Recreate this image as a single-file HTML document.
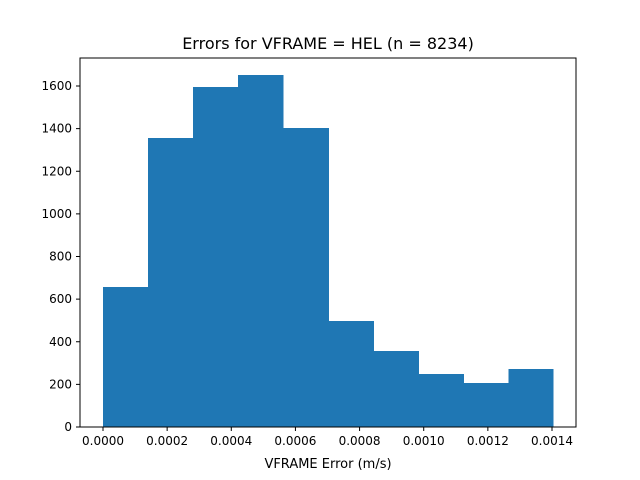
<!DOCTYPE html>
<html><head><meta charset="utf-8"><style>
body{margin:0;background:#fff;}
svg{display:block;font-family:"DejaVu Sans","Liberation Sans",sans-serif;}
</style></head><body>
<svg id="chart" width="640" height="480">
<rect width="640" height="480" fill="#fff"/>
<text x="328" y="49" text-anchor="middle" font-size="16">Errors for VFRAME = HEL (n = 8234)</text>
<g id="bars" shape-rendering="crispEdges"></g>
<g id="axes"></g>
<text x="328" y="468" text-anchor="middle" font-size="13">VFRAME Error (m/s)</text>
</svg>
<script>
const binStart = 0;
const binWidth = 0.0001405;
const counts = [657, 1356, 1595, 1652, 1403, 497, 357, 249, 206, 272];
const xTicks = [0, 0.0002, 0.0004, 0.0006, 0.0008, 0.0010, 0.0012, 0.0014];
const xTickLabels = ["0.0000","0.0002","0.0004","0.0006","0.0008","0.0010","0.0012","0.0014"];
const yTicks = [0, 200, 400, 600, 800, 1000, 1200, 1400, 1600];

const L=80,R=576,T=58,B=427;
function xs(v){return 103 + v*(449/0.0014);}
function ys(v){return B - v*(341/1600);}
const NS="http://www.w3.org/2000/svg";
const bars=document.getElementById('bars'), axes=document.getElementById('axes');
function mk(tag,attrs,parent){const e=document.createElementNS(NS,tag);for(const k in attrs)e.setAttribute(k,attrs[k]);parent.appendChild(e);return e;}
counts.forEach((c,i)=>{
  const x0=xs(binStart+i*binWidth), x1=xs(binStart+(i+1)*binWidth);
  const extra = i<counts.length-1 ? 0.5 : 0;
  const r=mk('rect',{x:x0,y:ys(c),width:x1-x0+extra,height:B-ys(c),fill:'#1f77b4'},bars);
  
  
});
const frame=mk('rect',{x:L,y:T,width:R-L,height:B-T,fill:'none',stroke:'#000','stroke-width':1},axes);


xTicks.forEach((v,i)=>{
  const x=xs(v);
  mk('line',{x1:x,x2:x,y1:B,y2:B+4,stroke:'#000'},axes);
  const t=mk('text',{x:x,y:B+18,'text-anchor':'middle','font-size':12},axes);
  t.textContent=xTickLabels[i];
  
  
});
yTicks.forEach(v=>{
  const y=ys(v);
  mk('line',{x1:L-4,x2:L,y1:y,y2:y,stroke:'#000'},axes);
  const t=mk('text',{x:L-8,y:y+4,'text-anchor':'end','font-size':12},axes);
  t.textContent=v;
  
  
});
</script>
</body></html>
